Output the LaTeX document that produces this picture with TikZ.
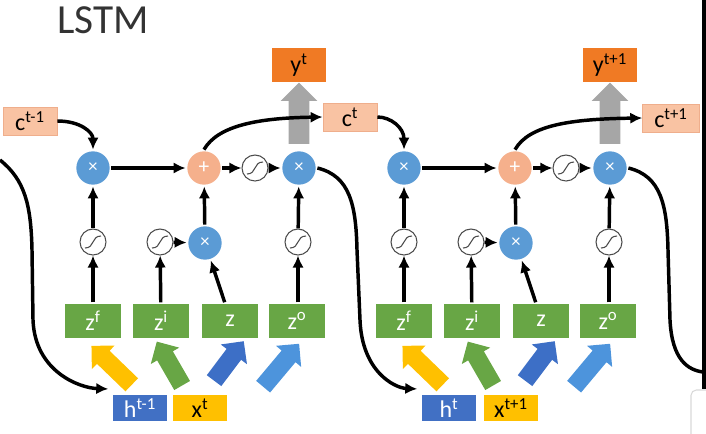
\documentclass[tikz,border=0pt]{standalone}
\usepackage{fontspec}
\setmainfont{Carlito}
\usetikzlibrary{shapes.arrows,arrows.meta}
\definecolor{cellfill}{HTML}{F9C3A3}
\definecolor{cellline}{HTML}{EFAE8C}
\definecolor{outfill}{HTML}{F07A24}
\definecolor{gatefill}{HTML}{68A645}
\definecolor{hfill}{HTML}{4170C4}
\definecolor{xfill}{HTML}{FFC000}
\definecolor{mulfill}{HTML}{5B9BD5}
\definecolor{addfill}{HTML}{F5B08C}
\definecolor{zblue}{HTML}{3D6FC6}
\definecolor{zlight}{HTML}{4D94DC}

\begin{document}
\begin{tikzpicture}[x=0.75pt,y=-0.75pt,line width=2.6pt,>={Latex[length=9pt,width=8.5pt]},
  font=\fontsize{18}{20}\selectfont,
  cellbox/.style={fill=cellfill,draw=cellline,line width=0.6pt,minimum width=40.5pt,minimum height=21pt,inner sep=0pt},
  outbox/.style={fill=outfill,minimum width=41pt,minimum height=25pt,inner sep=0pt},
  gatebox/.style={fill=gatefill,text=white,minimum width=42pt,minimum height=25.5pt,inner sep=0pt},
  inbox/.style={minimum width=40.5pt,minimum height=20pt,inner sep=0pt},
  mul/.style={circle,fill=mulfill,text=white,minimum size=25pt,inner sep=0pt,font=\fontsize{14}{14}\selectfont},
  add/.style={circle,fill=addfill,text=white,minimum size=25pt,inner sep=0pt,font=\fontsize{16}{16}\selectfont},
  sig/.style={circle,draw=black!70,line width=0.8pt,fill=white,minimum size=19.5pt,inner sep=0pt,
    path picture={\draw[line width=0.8pt] ([shift={(-8,6)}]path picture bounding box.center)
      .. controls ([shift={(2,6)}]path picture bounding box.center) and ([shift={(-2,-6)}]path picture bounding box.center)
      .. ([shift={(8,-6)}]path picture bounding box.center);}},
  fatarrow/.style={single arrow,inner sep=0pt,inner ysep=5.5pt,minimum width=22pt,single arrow head extend=5.5pt,anchor=tail}]
\useasboundingbox (0,0) rectangle (706,433);

\node [font=\fontsize{31}{31}\selectfont,text=black!80] (title) at (103,20) {LSTM};

% cell t
\node [cellbox] (cprev) at (30,121) {c\textsuperscript{t-1}};
\node [mul] (mulf1) at (93,168) {×};
\node [add] (add1) at (204,168) {+};
\node [sig] (tanh1) at (255,168) {};
\node [mul] (mulo1) at (299,168) {×};
\node [outbox] (y1) at (299,65) {y\textsuperscript{t}};
\node [cellbox] (ccur) at (350,117) {c\textsuperscript{t}};
\node [sig] (sigf1) at (93,242) {};
\node [sig] (sigi1) at (160,242) {};
\node [mul] (muli1) at (205,243) {×};
\node [sig] (sigo1) at (298,242) {};
\node [gatebox] (zf1) at (93,321) {z\textsuperscript{f}};
\node [gatebox] (zi1) at (161,321) {z\textsuperscript{i}};
\node [gatebox] (zz1) at (230,321) {z};
\node [gatebox] (zo1) at (297,321) {z\textsuperscript{o}};
\node [inbox,fill=hfill,text=white] (h1) at (140,408) {h\textsuperscript{t-1}};
\node [inbox,fill=xfill] (x1) at (200,408) {x\textsuperscript{t}};

\node [fatarrow,fill=xfill,rotate=136,minimum height=42pt] (af1) at (133,386) {};
\node [fatarrow,fill=gatefill,rotate=120,minimum height=38pt] (ai1) at (183,387) {};
\node [fatarrow,fill=zblue,rotate=53,minimum height=37pt] (az1) at (213,382) {};
\node [fatarrow,fill=zlight,rotate=50,minimum height=42pt] (ao1) at (262,388) {};
\node [fatarrow,fill=black!35,rotate=90,minimum height=46pt,inner ysep=6.4pt,minimum width=25pt,single arrow head extend=6pt] (ay1) at ([yshift=3pt]mulo1.north) {};

\coordinate (hin1) at (0,160);
\draw [->] (hin1) .. controls (25,180) and (31,205) .. (32,250) -- (33,320)
  .. controls (35,372) and (80,388) .. ([shift={(-3,-4)}]h1.north west);
\draw [->] (cprev.east) .. controls (80,121) and (93,132) .. (mulf1.north);
\draw [->] (mulf1) -- (add1);
\draw [->] (add1) -- (tanh1);
\draw [->] (tanh1) -- (mulo1);
\draw [->] (add1.north) .. controls (218,125) and (260,118) .. (ccur.west);
\draw [->] (zf1) -- (sigf1);
\draw [->] (sigf1) -- (mulf1);
\draw [->] (zi1) -- (sigi1);
\draw [->] (sigi1) -- (muli1);
\draw [->] ([xshift=-4pt]zz1.north) -- (muli1);
\draw [->] (muli1) -- (add1);
\draw [->] (zo1.north -| sigo1) -- (sigo1);
\draw [->] (sigo1) -- (mulo1);

% cell t+1
\node [mul] (mulf2) at (404,168) {×};
\node [add] (add2) at (515,168) {+};
\node [sig] (tanh2) at (566,168) {};
\node [mul] (mulo2) at (610,168) {×};
\node [outbox] (y2) at (610,65) {y\textsuperscript{t+1}};
\node [cellbox,minimum width=42.5pt] (cnext) at (671,118) {c\textsuperscript{t+1}};
\node [sig] (sigf2) at (404,242) {};
\node [sig] (sigi2) at (471,242) {};
\node [mul] (muli2) at (516,243) {×};
\node [sig] (sigo2) at (609,242) {};
\node [gatebox] (zf2) at (404,321) {z\textsuperscript{f}};
\node [gatebox] (zi2) at (472,321) {z\textsuperscript{i}};
\node [gatebox] (zz2) at (541,321) {z};
\node [gatebox] (zo2) at (608,321) {z\textsuperscript{o}};
\node [inbox,fill=hfill,text=white] (h2) at (449,408) {h\textsuperscript{t}};
\node [inbox,fill=xfill] (x2) at (511,408) {x\textsuperscript{t+1}};

\node [fatarrow,fill=xfill,rotate=136,minimum height=42pt] (af2) at (444,386) {};
\node [fatarrow,fill=gatefill,rotate=120,minimum height=38pt] (ai2) at (494,387) {};
\node [fatarrow,fill=zblue,rotate=53,minimum height=37pt] (az2) at (524,382) {};
\node [fatarrow,fill=zlight,rotate=50,minimum height=42pt] (ao2) at (573,388) {};
\node [fatarrow,fill=black!35,rotate=90,minimum height=46pt,inner ysep=6.4pt,minimum width=25pt,single arrow head extend=6pt] (ay2) at ([yshift=3pt]mulo2.north) {};

\draw [->] (mulo1.east) .. controls (350,176) and (356,205) .. (357,250) -- (360,320)
  .. controls (362,372) and (395,388) .. ([shift={(-3,-4)}]h2.north west);
\draw [->] (ccur.east) .. controls (391,117) and (404,128) .. (mulf2.north);
\draw [->] (mulf2) -- (add2);
\draw [->] (add2) -- (tanh2);
\draw [->] (tanh2) -- (mulo2);
\draw [->] (add2.north) .. controls (529,125) and (571,119) .. (cnext.west);
\draw [->] (zf2) -- (sigf2);
\draw [->] (sigf2) -- (mulf2);
\draw [->] (zi2) -- (sigi2);
\draw [->] (sigi2) -- (muli2);
\draw [->] ([xshift=-4pt]zz2.north) -- (muli2);
\draw [->] (muli2) -- (add2);
\draw [->] (zo2.north -| sigo2) -- (sigo2);
\draw [->] (sigo2) -- (mulo2);
\coordinate (hout2) at (703,372);
\draw (mulo2.east) .. controls (661,176) and (667,205) .. (668,250) -- (670,320)
  .. controls (672,360) and (688,370) .. (hout2);

% screen edge
\fill [black] (702,0) rectangle (706,389);
\draw [black!15,line width=0.8pt,fill=white,rounded corners=4pt] (691,390) rectangle (714,440);
\end{tikzpicture}
\end{document}
